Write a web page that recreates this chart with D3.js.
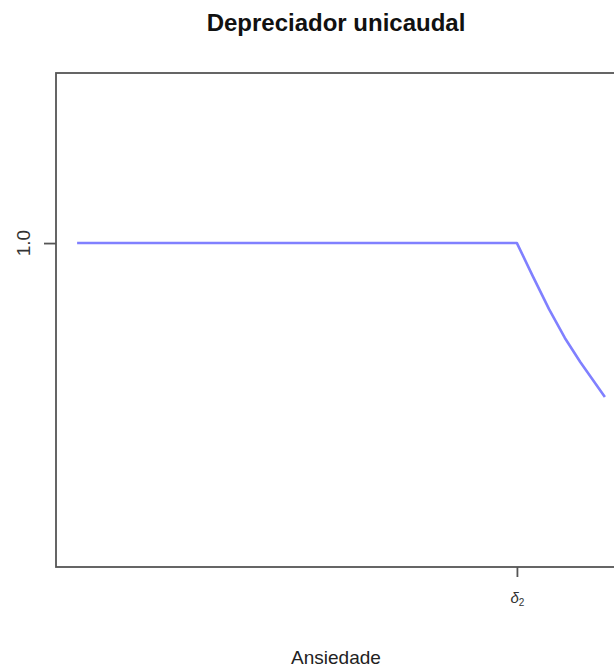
<!DOCTYPE html>
<html><head><meta charset="utf-8">
<script src="https://cdn.jsdelivr.net/npm/d3@7"></script>
<style>body{margin:0;background:#fff}svg{display:block}</style>
</head><body>
<script>
// Data (x in units where delta_2 = 1)
const xValues = [0, 1.0, 1.036, 1.073, 1.109, 1.144, 1.2];
const yValues = [1.0, 1.0, 0.898, 0.796, 0.707, 0.633, 0.525];
const xTicks = [1];
const xTickLabels = ["δ", "2"];
const yTicks = [1.0];
const yTickLabels = ["1.0"];
const title = "Depreciador unicaudal";
const xLabel = "Ansiedade";

(function() {
const W = 614, H = 669;
const mLeft = 56, mRight = 626, mTop = 73, mBottom = 567;
const svg = d3.select("body").append("svg").attr("width", W).attr("height", H);

const x = d3.scaleLinear().domain([-0.048, 1.248]).range([mLeft, mRight]);
const y = d3.scaleLinear().domain([0, 1.525]).range([mBottom, mTop]);

const font = "'Liberation Sans', Arial, sans-serif";
const axisColor = "#555";
const cx = 336;

// line
svg.append("path")
  .datum(xValues.map((v, i) => [v, yValues[i]]))
  .attr("fill", "none").attr("stroke", "#8080ff").attr("stroke-width", 2.6)
  .attr("stroke-linejoin", "round")
  .attr("d", d3.line().x(d => x(d[0])).y(d => y(d[1])));

// box
svg.append("rect").attr("x", mLeft).attr("y", mTop)
  .attr("width", mRight - mLeft).attr("height", mBottom - mTop)
  .attr("fill", "none").attr("stroke", axisColor).attr("stroke-width", 1.8);

// x axis
const gx = svg.append("g").attr("transform", `translate(0,${mBottom})`)
  .call(d3.axisBottom(x).tickValues(xTicks).tickSize(10).tickFormat(""));
gx.select(".domain").remove();
gx.selectAll("line").attr("stroke", axisColor).attr("stroke-width", 1.8);
gx.selectAll(".tick").each(function() {
  const t = d3.select(this).append("text")
    .attr("y", 36).attr("fill", "#333").attr("text-anchor", "middle")
    .attr("font-family", font).attr("font-size", 15).attr("font-style", "italic");
  t.append("tspan").text(xTickLabels[0]);
  t.append("tspan").attr("dy", 3).attr("font-size", 10).attr("font-style", "normal").text(xTickLabels[1]);
});

// y axis
const gy = svg.append("g").attr("transform", `translate(${mLeft},0)`)
  .call(d3.axisLeft(y).tickValues(yTicks).tickSize(12).tickFormat(""));
gy.select(".domain").remove();
gy.selectAll("line").attr("stroke", axisColor).attr("stroke-width", 1.8);
yTicks.forEach((v, i) => {
  svg.append("text")
    .attr("transform", `translate(30,${y(v)}) rotate(-90)`)
    .attr("text-anchor", "middle").attr("fill", "#333")
    .attr("font-family", font).attr("font-size", 19).text(yTickLabels[i]);
});

// title
svg.append("text").attr("x", cx).attr("y", 31)
  .attr("text-anchor", "middle").attr("font-family", font)
  .attr("font-weight", "bold").attr("font-size", 24).attr("fill", "#111").text(title);

// x label
svg.append("text").attr("x", cx).attr("y", 664)
  .attr("text-anchor", "middle").attr("font-family", font)
  .attr("font-size", 19).attr("fill", "#222").text(xLabel);
})();
</script>
</body></html>
